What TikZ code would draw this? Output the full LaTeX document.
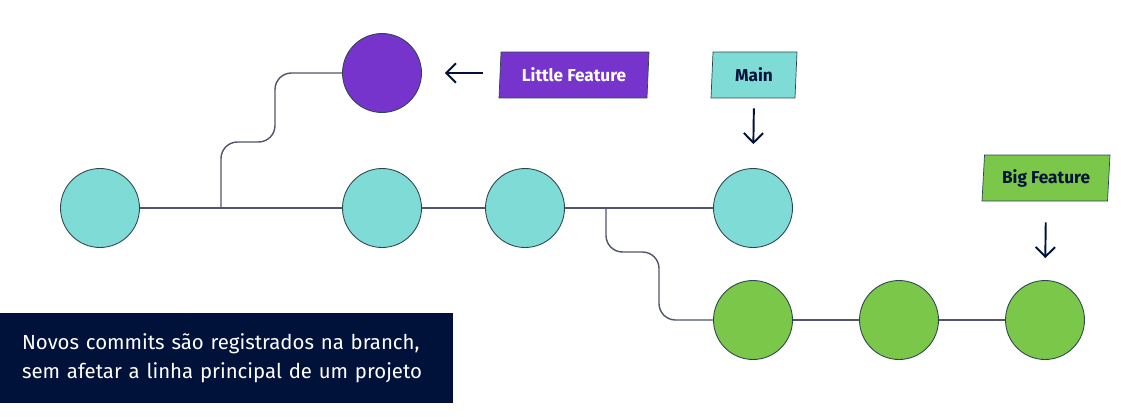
\documentclass[tikz,border=0pt]{standalone}
\usepackage{fontspec}
\setmainfont{Fira Sans}
\usetikzlibrary{arrows.meta,shapes.geometric}
\definecolor{cyanC}{HTML}{7FDBD6}
\definecolor{purpleC}{HTML}{7634CC}
\definecolor{greenC}{HTML}{7AC74A}
\definecolor{navyC}{HTML}{00113A}
\definecolor{wireC}{HTML}{50556A}
\definecolor{rimC}{HTML}{2E4550}
\begin{document}
\begin{tikzpicture}[x=0.02cm,y=-0.02cm,
    commit/.style={circle, draw=rimC, line width=0.5pt, minimum size=1.58cm, inner sep=0pt},
    wire/.style={draw=wireC, line width=0.8pt},
    tag/.style={trapezium, trapezium left angle=82, trapezium right angle=98,
      trapezium stretches body, draw=rimC, line width=0.4pt, minimum height=0.92cm,
      inner sep=0pt, font=\bfseries\fontsize{9.8}{12}\selectfont},
    pointer/.style={draw=navyC, line width=1.1pt, -{Straight Barb[length=5.5pt,width=11pt]}}]
    \useasboundingbox (0,0) rectangle (1121,416);

    % main line
    \foreach \n/\x in {c1/100,c2/382,c3/525,c4/753} {
      \node[commit, fill=cyanC] (\n) at (\x,208) {};
    }
    \draw[wire] (c1) -- (c2) -- (c3) -- (c4);
    \coordinate (fork1) at (221,208);
    \coordinate (fork2) at (606,208);

    % little feature branch
    \node[commit, fill=purpleC] (p1) at (382,73) {};
    \draw[wire, rounded corners=0.33cm] (fork1) |- (275,142) |- (p1.west);

    % big feature branch
    \foreach \n/\x in {g1/753,g2/899,g3/1045} {
      \node[commit, fill=greenC] (\n) at (\x,320) {};
    }
    \draw[wire] (g1) -- (g2) -- (g3);
    \draw[wire, rounded corners=0.33cm] (fork2) |- (659,252) |- (g1.west);

    % branch labels
    \node[tag, fill=purpleC, text=white, minimum width=3.0cm] (lf) at (574,75) {Little Feature};
    \node[tag, fill=cyanC, text=navyC, minimum width=1.72cm] (mn) at (754,75) {Main};
    \node[tag, fill=greenC, text=navyC, minimum width=2.56cm] (bf) at (1046,178) {Big Feature};
    \draw[pointer, shorten <=0.34cm, shorten >=0.46cm] (lf.west |- p1.east) -- (p1.east);
    \draw[pointer, shorten <=0.2cm, shorten >=0.48cm] (mn.south) -- (c4.north);
    \draw[pointer, shorten <=0.42cm, shorten >=0.44cm] (bf.south) -- (g3.north);

    % caption box
    \node[fill=navyC, text=white, minimum height=1.8cm, text width=8.18cm, inner xsep=0.44cm,
      align=left, font=\fontsize{11.6}{16.6}\selectfont] (note) at (226.5,358)
      {Novos commits são registrados na branch,\\sem afetar a linha principal de um projeto};
  \end{tikzpicture}
\end{document}
